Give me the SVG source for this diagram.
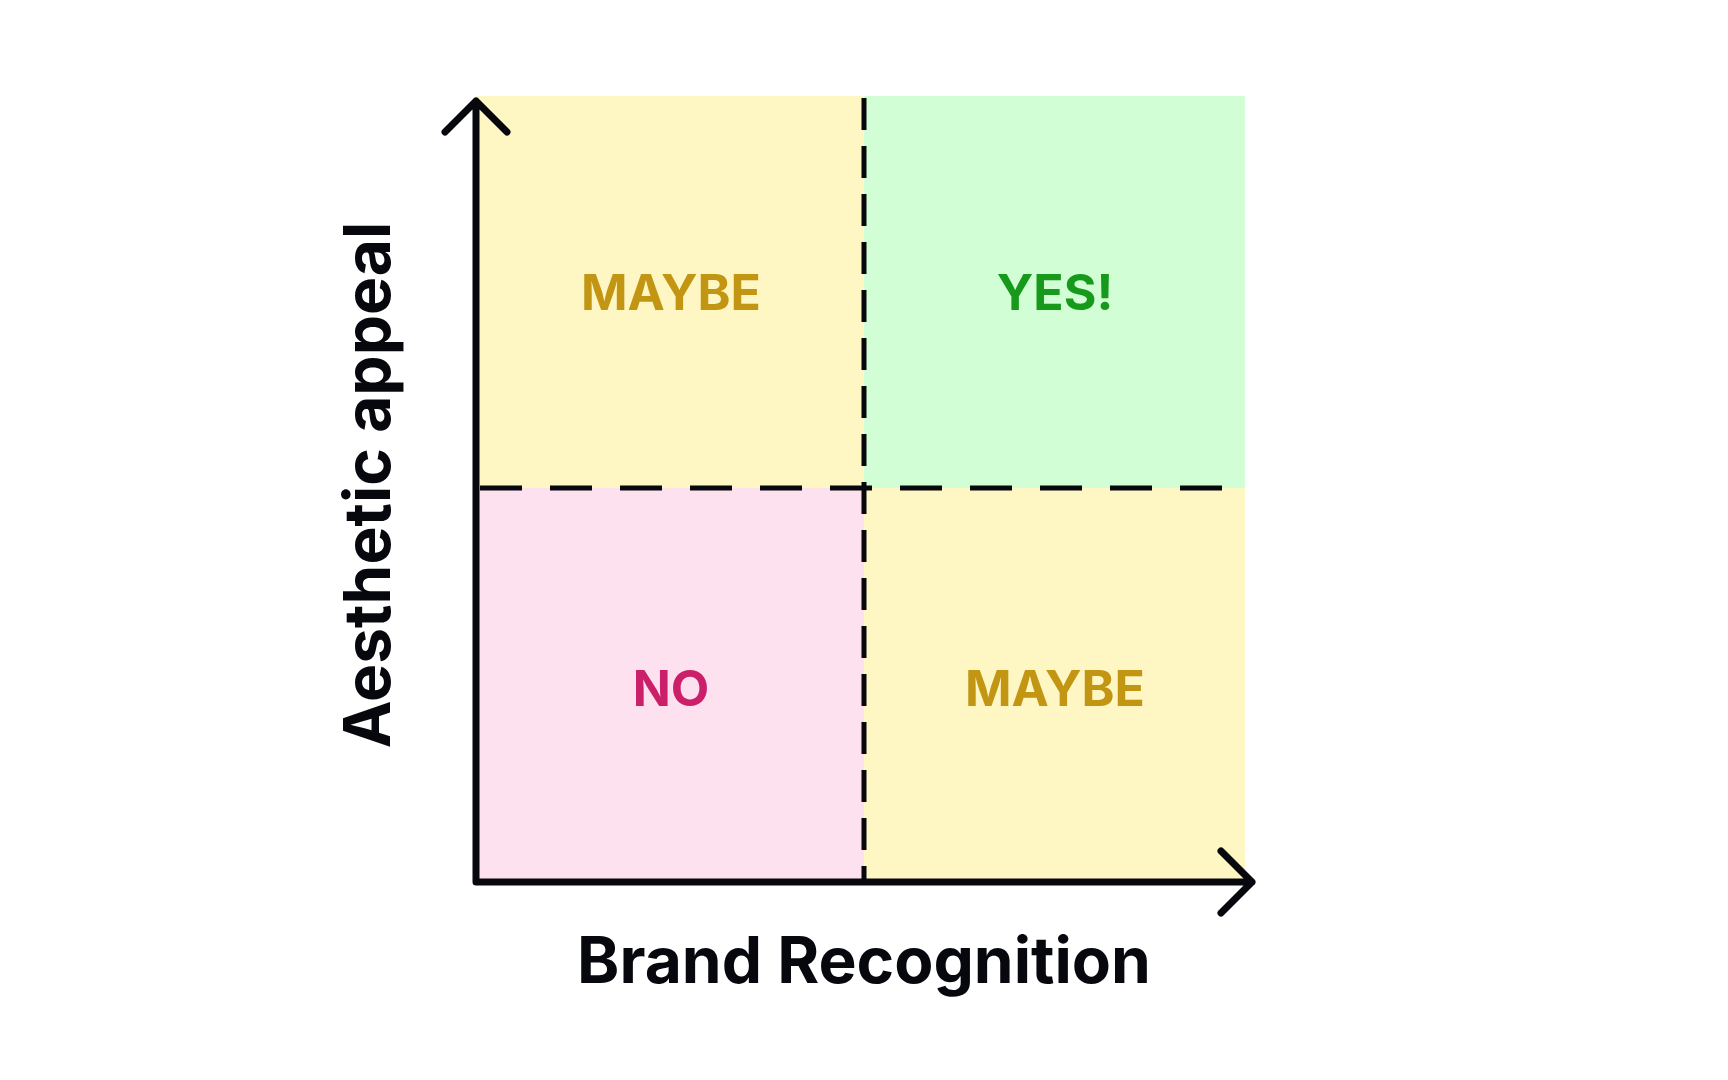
<svg xmlns="http://www.w3.org/2000/svg" width="1728" height="1080" viewBox="0 0 1728 1080">
<style>
.q{font-family:Inter,"Liberation Sans",sans-serif;font-weight:700;font-size:50px;text-anchor:middle}
.ax{font-family:Inter,"Liberation Sans",sans-serif;font-weight:700;font-size:64px;fill:#07070e;text-anchor:middle}
.l{stroke:#07070e;stroke-width:7;fill:none;stroke-linecap:round;stroke-linejoin:round}
.d{stroke:#07070e;stroke-width:5;fill:none}
</style>
<rect width="1728" height="1080" fill="#fff"/>
<g id="q-tl"><rect x="476" y="96" width="388" height="392" fill="#fef6c3"/><text class="q" x="671" y="310" fill="#c29513">MAYBE</text></g>
<g id="q-tr"><rect x="864" y="96" width="381" height="392" fill="#d2fed5"/><text class="q" x="1055" y="310" fill="#179a1b">YES!</text></g>
<g id="q-bl"><rect x="476" y="488" width="388" height="394" fill="#fde1ee"/><text class="q" x="671" y="706" fill="#cc1f6a">NO</text></g>
<g id="q-br"><rect x="864" y="488" width="381" height="394" fill="#fef6c3"/><text class="q" x="1055" y="706" fill="#c29513">MAYBE</text></g>
<g id="connectors">
<line class="d" x1="864" y1="98" x2="864" y2="882" stroke-dasharray="32 16"/>
<line class="d" x1="480" y1="488" x2="1245" y2="488" stroke-dasharray="42 28"/>
<path class="l" d="M476 882V101M445 132L476 101L507 132M476 882H1252M1221 851L1252 882L1221 913"/>
</g>
<g id="labels">
<text class="ax" x="864" y="983">Brand Recognition</text>
<text class="ax" transform="translate(390 485) rotate(-90)">Aesthetic appeal</text>
</g>
</svg>
